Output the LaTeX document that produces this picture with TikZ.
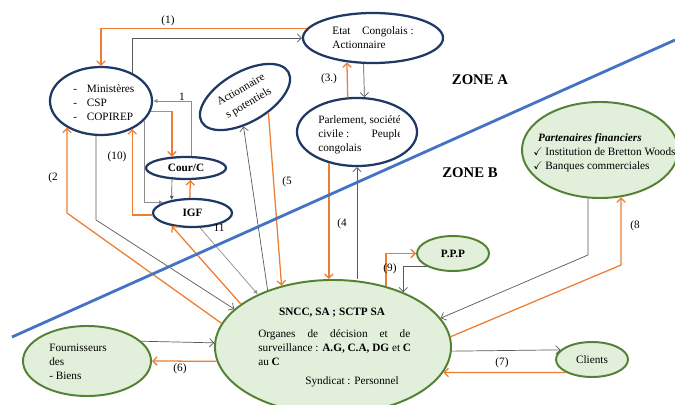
\documentclass[tikz,border=0pt]{standalone}
\usepackage{amssymb}
\usepackage{fontspec}
\setmainfont{Liberation Serif}
\usetikzlibrary{shapes.geometric,arrows.meta}
\definecolor{navy}{HTML}{1F3864}
\definecolor{leaf}{HTML}{548235}
\definecolor{leaffill}{HTML}{E2EFDA}
\definecolor{orng}{HTML}{ED7D31}
\definecolor{grayd}{HTML}{595959}
\definecolor{grayl}{HTML}{8C8C8C}
\definecolor{zoneblue}{HTML}{4472C4}
\tikzset{
bell/.style={ellipse,draw=navy,line width=1.6pt,fill=white,inner sep=0pt},
gell/.style={ellipse,draw=leaf,line width=1.4pt,fill=leaffill,inner sep=0pt},
txt/.style={font=\fontsize{8}{10}\selectfont,inner sep=0pt},
btxt/.style={font=\fontsize{8}{10}\selectfont\bfseries,inner sep=0pt},
zonetxt/.style={font=\fontsize{10.5}{12}\selectfont\bfseries,inner sep=0pt},
oarr/.style={draw=orng,line width=0.9pt,-{Straight Barb[length=3pt,width=6pt]}},
garr/.style={draw=grayd,line width=0.5pt,-{Straight Barb[length=3pt,width=6pt]}},
farr/.style={draw=grayl,line width=0.5pt,-{Latex[length=3pt,width=3pt]}},
zoneline/.style={draw=zoneblue,line width=2pt}
}
\begin{document}
\begin{tikzpicture}[x=0.025cm,y=-0.025cm]

\useasboundingbox(0,0)rectangle(675,405);
\node[bell,minimum width=2.55cm,minimum height=1.7cm](min)at(101,101){};
\node[bell,minimum width=3.5cm,minimum height=1.25cm,txt,align=left](etat)at(373,38){\makebox[2.03cm][l]{Etat\hfill Congolais :}\\Actionnaire};
\node[bell,minimum width=3cm,minimum height=1.7cm](parl)at(357,132){};
\node[bell,minimum width=2.5cm,minimum height=1.25cm,rotate=30,font=\fontsize{8}{11}\selectfont,align=center](act)at(245,97){Actionnaire\\s potentiels};
\node[bell,minimum width=2cm,minimum height=0.55cm,btxt](cour)at(186,168){Cour/C};
\node[bell,minimum width=1.975cm,minimum height=0.7cm,btxt](igf)at(192.5,213){IGF};
\node[gell,minimum width=5.9cm,minimum height=3.35cm](sncc)at(333,347){};
\node[gell,minimum width=3.2cm,minimum height=1.75cm](four)at(87,361){};
\node[gell,minimum width=1.8cm,minimum height=0.875cm,txt](cli)at(592,359.5){Clients};
\node[gell,minimum width=1.8cm,minimum height=0.875cm,btxt](ppp)at(453,253.5){P.P.P};
\node[gell,minimum width=3.9cm,minimum height=2.4cm](part)at(600,150){};
\begin{scope}
\clip(55,75)rectangle(150,121);
\node[txt,align=left,anchor=west](mint)at(73,103){-\hspace{7pt}Ministères\\-\hspace{7pt}CSP\\-\hspace{7pt}COPIREP};
\end{scope}
\begin{scope}
\clip(310,110)rectangle(399,160);
\node[txt,align=left,anchor=west](parlt)at(318,135){Parlement, société\\\makebox[2.1cm][l]{civile :\hfill Peuple}\\congolais};
\end{scope}
\node[btxt](sncch)at(332,313){SNCC, SA ; SCTP SA};
\node[txt,align=left,anchor=west](snccb)at(258,348){\makebox[3.8cm][s]{Organes de décision et de}\\surveillance : \textbf{A.G, C.A, DG} et \textbf{C}\\au \textbf{C}};
\node[txt](snccs)at(352,382){Syndicat : Personnel};
\node[txt,align=left,anchor=west](fourt)at(49,361.5){Fournisseurs\\des\\- Biens};
\node[txt,align=left,anchor=west](partt)at(533,153){\hspace{3.5pt}\textbf{\textit{Partenaires financiers}}\\$\checkmark$ Institution de Bretton Woods\\$\checkmark$ Banques commerciales};
\node[zonetxt](zonea)at(480,80){ZONE A};
\node[zonetxt](zoneb)at(470,173){ZONE B};
\draw[oarr](etat.172)-|(min.north);
\draw[garr](min.42)|-(etat.west);
\draw[oarr](parl.105)--(etat.223);
\draw[garr](etat.250)--(parl.78);
\draw[oarr](parl.228)--(parl.228|-sncc.north);
\draw[garr](parl.south|-sncc.north)--(parl.south);
\draw[oarr](act.296)--(sncc.130);
\draw[garr](sncc.139)--(act.237);
\draw[farr](cour.65)|-(min.east);
\draw[oarr](min.348)-|(cour.141);
\draw[farr,draw=grayd](cour.219)--(igf.148);
\draw[oarr](igf.100)--(cour.290);
\draw[farr](min.335)|-(igf.160);
\draw[oarr](igf.183)-|(min.318);
\draw[oarr](sncc.168)--(min.218|-0,213)--(min.218);
\draw[garr](min.262)--(min.262|-0,220)--(sncc.159);
\draw[farr](igf.297)--(sncc.145);
\draw[oarr](sncc.155)--(igf.212);
\draw[garr](four.20)--(sncc.178);
\draw[oarr](sncc.187)--(four.east);
\draw[oarr](sncc.49)|-(ppp.west);
\draw[garr](ppp.206)-|(sncc.38);
\draw[garr](part.256)--(part.256|-0,255)--(sncc.15);
\draw[oarr](sncc.5)--(part.294|-0,265)--(part.294);
\draw[garr](sncc.358)--(cli.163);
\draw[oarr](cli.206)--(sncc.347);
\node[txt](l1)at(168,21){(1)};
\node[txt](l3)at(329,79){(3.)};
\node[txt](lone)at(182,97){1};
\node[txt](l10)at(117,157){(10)};
\node[txt](l2)at(53,178){(2};
\node[txt](l5)at(287,182){(5};
\node[txt](l4)at(342,224){(4};
\node[txt](l11)at(219,228){11};
\node[txt](l9)at(390,269){(9)};
\node[txt](l8)at(635,226){(8};
\node[txt](l6)at(180,369){(6)};
\node[txt](l7)at(502,363){(7)};
\draw[zoneline](12,337)--(675,40);

\end{tikzpicture}
\end{document}
